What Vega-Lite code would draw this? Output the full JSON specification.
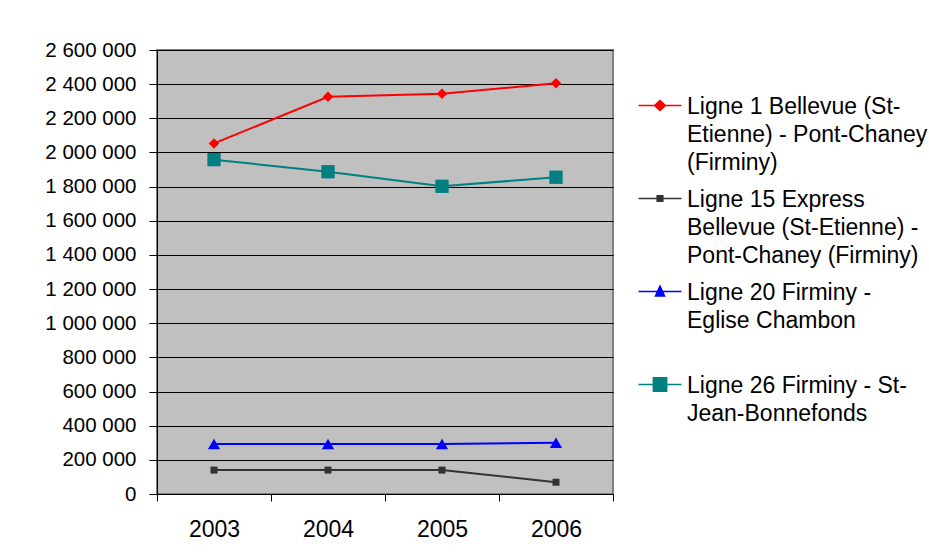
{
  "$schema": "https://vega.github.io/schema/vega-lite/v6.json",
  "description": "Fréquentation annuelle des lignes de bus, 2003-2006",
  "width": 456,
  "height": 444,
  "autosize": {"type": "none"},
  "padding": {"left": 157, "top": 50, "right": 316, "bottom": 61},
  "background": "white",
  "data": {
    "values": [
      {"ligne": "Ligne 1 Bellevue (St-Etienne) - Pont-Chaney (Firminy)", "annee": "2003", "voyages": 2053000},
      {"ligne": "Ligne 1 Bellevue (St-Etienne) - Pont-Chaney (Firminy)", "annee": "2004", "voyages": 2326000},
      {"ligne": "Ligne 1 Bellevue (St-Etienne) - Pont-Chaney (Firminy)", "annee": "2005", "voyages": 2344000},
      {"ligne": "Ligne 1 Bellevue (St-Etienne) - Pont-Chaney (Firminy)", "annee": "2006", "voyages": 2405000},
      {"ligne": "Ligne 15 Express Bellevue (St-Etienne) - Pont-Chaney (Firminy)", "annee": "2003", "voyages": 140000},
      {"ligne": "Ligne 15 Express Bellevue (St-Etienne) - Pont-Chaney (Firminy)", "annee": "2004", "voyages": 140000},
      {"ligne": "Ligne 15 Express Bellevue (St-Etienne) - Pont-Chaney (Firminy)", "annee": "2005", "voyages": 140000},
      {"ligne": "Ligne 15 Express Bellevue (St-Etienne) - Pont-Chaney (Firminy)", "annee": "2006", "voyages": 69000},
      {"ligne": "Ligne 20 Firminy - Eglise Chambon", "annee": "2003", "voyages": 293000},
      {"ligne": "Ligne 20 Firminy - Eglise Chambon", "annee": "2004", "voyages": 293000},
      {"ligne": "Ligne 20 Firminy - Eglise Chambon", "annee": "2005", "voyages": 293000},
      {"ligne": "Ligne 20 Firminy - Eglise Chambon", "annee": "2006", "voyages": 300000},
      {"ligne": "Ligne 26 Firminy - St-Jean-Bonnefonds", "annee": "2003", "voyages": 1958000},
      {"ligne": "Ligne 26 Firminy - St-Jean-Bonnefonds", "annee": "2004", "voyages": 1887000},
      {"ligne": "Ligne 26 Firminy - St-Jean-Bonnefonds", "annee": "2005", "voyages": 1802000},
      {"ligne": "Ligne 26 Firminy - St-Jean-Bonnefonds", "annee": "2006", "voyages": 1855000}
    ]
  },
  "encoding": {
    "x": {
      "field": "annee",
      "type": "ordinal",
      "scale": {"type": "band", "paddingInner": 0, "paddingOuter": 0},
      "bandPosition": 0.5,
      "axis": {
        "title": null,
        "tickBand": "extent",
        "labelAngle": 0,
        "labelFontSize": 23,
        "tickSize": 7,
        "labelPadding": 17,
        "grid": false
      }
    },
    "y": {
      "field": "voyages",
      "type": "quantitative",
      "scale": {"domain": [0, 2600000], "nice": false},
      "axis": {
        "title": null,
        "values": [0, 200000, 400000, 600000, 800000, 1000000, 1200000, 1400000, 1600000, 1800000, 2000000, 2200000, 2400000, 2600000],
        "format": ",d",
        "labelFontSize": 20.5,
        "grid": true,
        "tickSize": 8,
        "labelPadding": 13
      }
    }
  },
  "layer": [
    {
      "mark": {"type": "line", "strokeWidth": 2},
      "encoding": {
        "color": {
          "field": "ligne",
          "type": "nominal",
          "legend": null,
          "scale": {
            "domain": [
              "Ligne 1 Bellevue (St-Etienne) - Pont-Chaney (Firminy)",
              "Ligne 15 Express Bellevue (St-Etienne) - Pont-Chaney (Firminy)",
              "Ligne 20 Firminy - Eglise Chambon",
              "Ligne 26 Firminy - St-Jean-Bonnefonds"
            ],
            "range": ["#FF0000", "#333333", "#0000FF", "#008080"]
          }
        }
      }
    },
    {
      "transform": [{"filter": "indexof(datum.ligne, 'Ligne 1 ') == 0"}],
      "mark": {"type": "point", "shape": "diamond", "size": 110, "filled": true, "opacity": 1},
      "encoding": {"color": {"field": "ligne", "type": "nominal", "legend": null}}
    },
    {
      "transform": [{"filter": "indexof(datum.ligne, 'Ligne 15') == 0"}],
      "mark": {"type": "point", "shape": "square", "size": 49, "filled": true, "opacity": 1},
      "encoding": {"color": {"field": "ligne", "type": "nominal", "legend": null}}
    },
    {
      "transform": [{"filter": "indexof(datum.ligne, 'Ligne 20') == 0"}],
      "mark": {"type": "point", "shape": "triangle-up", "size": 150, "filled": true, "opacity": 1},
      "encoding": {"color": {"field": "ligne", "type": "nominal", "legend": null}}
    },
    {
      "transform": [{"filter": "indexof(datum.ligne, 'Ligne 26') == 0"}],
      "mark": {"type": "point", "shape": "square", "size": 177, "filled": true, "opacity": 1},
      "encoding": {"color": {"field": "ligne", "type": "nominal", "legend": null}}
    },
    {
      "mark": {"type": "point", "filled": true, "opacity": 0, "strokeWidth": 1.5},
      "encoding": {
        "fill": {
          "field": "ligne",
          "type": "nominal",
          "scale": {"range": ["#FF0000", "#333333", "#0000FF", "#008080"]},
          "legend": {
            "orient": "none",
            "legendX": 480,
            "legendY": 34,
            "title": null,
            "symbolSize": 400,
            "symbolOpacity": 1,
            "symbolStrokeWidth": 1.5,
            "labelOffset": 27,
            "rowPadding": 2,
            "labelLimit": 400,
            "labelFontSize": 23,
            "labelBaseline": "top",
            "labelExpr": "indexof(datum.label, 'Ligne 1 ') == 0 ? ['Ligne 1 Bellevue (St-', 'Etienne) - Pont-Chaney', '(Firminy)'] : indexof(datum.label, 'Ligne 15') == 0 ? ['Ligne 15 Express', 'Bellevue (St-Etienne) -', 'Pont-Chaney (Firminy)'] : indexof(datum.label, 'Ligne 20') == 0 ? ['Ligne 20 Firminy -', 'Eglise Chambon', ' '] : ['Ligne 26 Firminy - St-', 'Jean-Bonnefonds', ' ']"
          }
        },
        "stroke": {
          "field": "ligne",
          "type": "nominal",
          "scale": {"range": ["#FF0000", "#333333", "#0000FF", "#008080"]},
          "legend": {
            "orient": "none",
            "legendX": 480,
            "legendY": 34,
            "title": null,
            "symbolSize": 400,
            "symbolOpacity": 1,
            "symbolStrokeWidth": 1.5,
            "labelOffset": 27,
            "rowPadding": 2,
            "labelLimit": 400,
            "labelFontSize": 23,
            "labelBaseline": "top",
            "labelExpr": "indexof(datum.label, 'Ligne 1 ') == 0 ? ['Ligne 1 Bellevue (St-', 'Etienne) - Pont-Chaney', '(Firminy)'] : indexof(datum.label, 'Ligne 15') == 0 ? ['Ligne 15 Express', 'Bellevue (St-Etienne) -', 'Pont-Chaney (Firminy)'] : indexof(datum.label, 'Ligne 20') == 0 ? ['Ligne 20 Firminy -', 'Eglise Chambon', ' '] : ['Ligne 26 Firminy - St-', 'Jean-Bonnefonds', ' ']"
          }
        },
        "shape": {
          "field": "ligne",
          "type": "nominal",
          "scale": {
            "range": [
              "M-1,1H3.3M1.15,0.5L1.7,1L1.15,1.5L0.6,1Z",
              "M-1,1H3.3M0.865,0.715H1.435V1.285H0.865Z",
              "M-1,1H3.3M1.15,0.45L1.6,1.45H0.7Z",
              "M-1,1H3.3M0.485,0.335H1.815V1.665H0.485Z"
            ]
          },
          "legend": {
            "orient": "none",
            "legendX": 480,
            "legendY": 34,
            "title": null,
            "symbolSize": 400,
            "symbolOpacity": 1,
            "symbolStrokeWidth": 1.5,
            "labelOffset": 27,
            "rowPadding": 2,
            "labelLimit": 400,
            "labelFontSize": 23,
            "labelBaseline": "top",
            "labelExpr": "indexof(datum.label, 'Ligne 1 ') == 0 ? ['Ligne 1 Bellevue (St-', 'Etienne) - Pont-Chaney', '(Firminy)'] : indexof(datum.label, 'Ligne 15') == 0 ? ['Ligne 15 Express', 'Bellevue (St-Etienne) -', 'Pont-Chaney (Firminy)'] : indexof(datum.label, 'Ligne 20') == 0 ? ['Ligne 20 Firminy -', 'Eglise Chambon', ' '] : ['Ligne 26 Firminy - St-', 'Jean-Bonnefonds', ' ']"
          }
        }
      }
    }
  ],
  "config": {
    "locale": {
      "number": {"decimal": ",", "thousands": " ", "grouping": [3], "currency": ["", " €"]}
    },
    "font": "Liberation Sans",
    "view": {"fill": "#C0C0C0", "stroke": "#808080", "strokeWidth": 2},
    "style": {"guide-label": {"lineHeight": 28}},
    "axis": {
      "labelFont": "Liberation Sans",
      "labelColor": "black",
      "domainColor": "black",
      "domainWidth": 1,
      "tickColor": "black",
      "tickWidth": 1,
      "gridColor": "black",
      "gridWidth": 1,
      "gridOpacity": 1
    },
    "legend": {
      "labelFont": "Liberation Sans",
      "labelColor": "black"
    }
  }
}
